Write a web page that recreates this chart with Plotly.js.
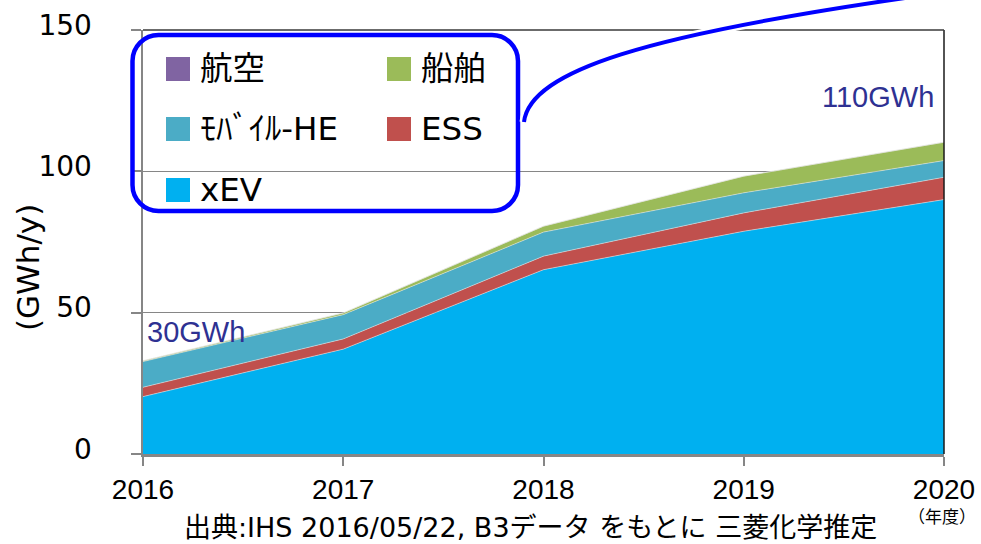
<!DOCTYPE html>
<html>
<head>
<meta charset="utf-8">
<script src="https://cdn.plot.ly/plotly-3.0.1.min.js"></script>
<style>html,body{margin:0;padding:0;background:#fff;}#chart{width:981px;height:544px;}</style>
</head>
<body>
<div id="chart"></div>
<script>
// ---- data ----
const years = [2016, 2017, 2018, 2019, 2020];
const xEV = [20.3, 37.1, 65.2, 78.8, 90.0];
const ESS = [3.3, 3.6, 4.8, 6.5, 7.9];
const mobileHE = [9.1, 8.6, 8.5, 7.1, 5.9];
const ships = [0.3, 0.6, 2.1, 5.9, 6.5];
const aviation = [0, 0, 0, 0, 0];
const seriesNames = ['xEV', 'ESS', 'ﾓﾊﾞｲﾙ-HE', '船舶', '航空'];
const seriesColors = ['#00B0F0', '#C0504D', '#4BACC6', '#9BBB59', '#8064A2'];
const yTicks = [0, 50, 100, 150];
const totalLabels = ['30GWh', '110GWh'];
const yTitle = '(GWh/y)';
const sourceNote = '出典:IHS 2016/05/22, B3データ をもとに 三菱化学推定';
const unitNote = '（年度）';

const seriesValues = [xEV, ESS, mobileHE, ships, aviation];

// ---- geometry helpers (pixel -> paper) ----
const W = 981, H = 544;
const L = 143, R = 944, T = 30, B = 454;
const px = p => (p - L) / (R - L);
const py = p => (B - p) / (B - T);
const P = (x, y) => px(x).toFixed(5) + ',' + py(y).toFixed(5);

const traces = seriesValues.map((vals, i) => ({
  type: 'scatter',
  mode: 'lines',
  x: years,
  y: vals,
  name: seriesNames[i],
  stackgroup: 'one',
  fillcolor: seriesColors[i],
  line: {color: 'rgba(230,230,230,0.9)', width: 0.6},
  showlegend: false,
  hoverinfo: 'x+y+name'
}));

// legend (custom, two columns)
const legendOrder = [4, 3, 2, 1, 0]; // 航空, 船舶, ﾓﾊﾞｲﾙ-HE, ESS, xEV
const colX = [166, 387];
const rowY = [69, 129, 190];
const shapes = [];
const annotations = [];
legendOrder.forEach((si, k) => {
  const c = k % 2, r = Math.floor(k / 2);
  const sx = colX[c], sy = rowY[r];
  shapes.push({type: 'rect', xref: 'paper', yref: 'paper',
    x0: px(sx), x1: px(sx + 24), y0: py(sy + 12), y1: py(sy - 12),
    fillcolor: seriesColors[si], line: {width: 0}, layer: 'above'});
  annotations.push({xref: 'paper', yref: 'paper', x: px(sx + 32), y: py(sy),
    xanchor: 'left', yanchor: 'middle', showarrow: false, text: seriesNames[si],
    font: {family: 'DejaVu Sans, Noto Sans CJK JP, sans-serif', size: 32.5, color: '#000'}});
});

// rounded legend frame
(function () {
  const x0 = 132.5, x1 = 518, y0 = 35, y1 = 211, r = 26, k = r * 0.5523;
  const path = 'M' + P(x0 + r, y0) + ' L' + P(x1 - r, y0) +
    ' C' + P(x1 - r + k, y0) + ' ' + P(x1, y0 + r - k) + ' ' + P(x1, y0 + r) +
    ' L' + P(x1, y1 - r) +
    ' C' + P(x1, y1 - r + k) + ' ' + P(x1 - r + k, y1) + ' ' + P(x1 - r, y1) +
    ' L' + P(x0 + r, y1) +
    ' C' + P(x0 + r - k, y1) + ' ' + P(x0, y1 - r + k) + ' ' + P(x0, y1 - r) +
    ' L' + P(x0, y0 + r) +
    ' C' + P(x0, y0 + r - k) + ' ' + P(x0 + r - k, y0) + ' ' + P(x0 + r, y0) + ' Z';
  shapes.push({type: 'path', xref: 'paper', yref: 'paper', path: path,
    line: {color: '#0000FF', width: 4.5}, layer: 'above'});
  const curve = 'M' + P(524, 122) + ' C' + P(530, 70) + ' ' + P(650, 35) + ' ' + P(905, -2);
  shapes.push({type: 'path', xref: 'paper', yref: 'paper', path: curve,
    line: {color: '#FFFFFF', width: 9}, layer: 'above'});
  shapes.push({type: 'path', xref: 'paper', yref: 'paper', path: curve,
    line: {color: '#0000FF', width: 4}, layer: 'above'});
})();

// plot frame top & right
shapes.unshift({type: 'line', xref: 'paper', yref: 'paper', x0: 0, x1: 1, y0: 1, y1: 1,
  line: {color: '#3a3a3a', width: 1.5}, layer: 'above'});
shapes.unshift({type: 'line', xref: 'paper', yref: 'paper', x0: 1, x1: 1, y0: 0, y1: 1,
  line: {color: '#1a1a1a', width: 1.5}, layer: 'above'});

// total labels
annotations.push({xref: 'paper', yref: 'paper', x: px(145), y: py(332), xanchor: 'left', yanchor: 'middle',
  showarrow: false, text: totalLabels[0],
  font: {family: 'Liberation Sans, Arial, sans-serif', size: 29, color: '#2E3192'}});
annotations.push({xref: 'paper', yref: 'paper', x: px(936), y: py(97), xanchor: 'right', yanchor: 'middle',
  showarrow: false, text: totalLabels[1],
  font: {family: 'Liberation Sans, Arial, sans-serif', size: 29, color: '#2E3192'}});
// y axis title (placed to match the reference's off-centre position)
annotations.push({xref: 'paper', yref: 'paper', x: px(28), y: py(268), xanchor: 'center', yanchor: 'middle',
  showarrow: false, textangle: -90, text: yTitle,
  font: {family: 'DejaVu Sans, sans-serif', size: 31, color: '#000'}});
// source note
annotations.push({xref: 'paper', yref: 'paper', x: px(530), y: py(544), xanchor: 'center', yanchor: 'bottom',
  showarrow: false, borderpad: 0, text: sourceNote,
  font: {family: 'DejaVu Sans, Noto Sans CJK JP, sans-serif', size: 27, color: '#000'}});
annotations.push({xref: 'paper', yref: 'paper', x: px(942), y: py(515), xanchor: 'center', yanchor: 'middle',
  showarrow: false, text: unitNote,
  font: {family: 'Noto Sans CJK JP, sans-serif', size: 17, color: '#000'}});

const layout = {
  width: W, height: H,
  margin: {l: L, r: W - R, t: T, b: H - B, pad: 0},
  paper_bgcolor: '#fff', plot_bgcolor: '#fff',
  showlegend: false,
  font: {family: 'DejaVu Sans, sans-serif', color: '#000'},
  xaxis: {
    range: [years[0], years[years.length - 1]],
    tickvals: years, ticktext: years.map(String),
    showgrid: false, zeroline: false,
    showline: true, linecolor: '#868686', linewidth: 2.5,
    ticks: 'outside', ticklen: 9, tickwidth: 2, tickcolor: '#868686',
    tickfont: {family: 'Liberation Sans, Arial, sans-serif', size: 28, color: '#000'}
  },
  yaxis: {
    range: [0, 150],
    tickvals: yTicks,
    showgrid: true, gridcolor: '#868686', gridwidth: 1.5,
    zeroline: false,
    showline: true, linecolor: '#868686', linewidth: 2.5,
    ticks: 'outside', ticklen: 10, tickwidth: 2, tickcolor: '#868686',
    ticklabelstandoff: 33, ticklabelshift: -5,
    tickfont: {family: 'DejaVu Sans, sans-serif', size: 28, color: '#000'}
  },
  shapes: shapes,
  annotations: annotations
};

Plotly.newPlot('chart', traces, layout, {displayModeBar: false, staticPlot: true});
</script>
</body>
</html>
